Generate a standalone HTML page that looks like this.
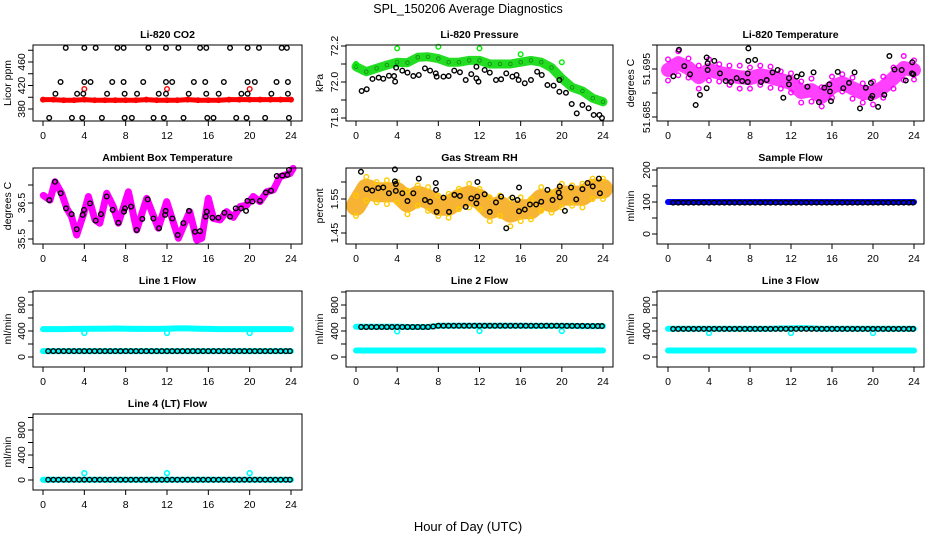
<!DOCTYPE html>
<html>
<head>
<meta charset="utf-8">
<style>
  html,body{margin:0;padding:0;background:#fff;}
  svg{display:block;font-family:"Liberation Sans",sans-serif;}
  .tk{font-size:10.5px;fill:#000;}
  .ttl{font-size:10.5px;font-weight:bold;fill:#000;}
</style>
</head>
<body>
<svg id="chart" width="936" height="540" viewBox="0 0 936 540" xmlns="http://www.w3.org/2000/svg">
  <rect x="0" y="0" width="936" height="540" fill="#fff"/>
  <text x="468" y="13" text-anchor="middle" font-size="12.5">SPL_150206  Average Diagnostics</text>
  <text x="468" y="531" text-anchor="middle" font-size="13">Hour of Day (UTC)</text>
</svg>
<script>
// ---------- data ----------
const HOURS = [0,1,2,3,4,5,6,7,8,9,10,11,12,13,14,15,16,17,18,19,20,21,22,23,24];
const HALF = [0.5,1,1.5,2,2.5,3,3.5,4,4.5,5,5.5,6,6.5,7,7.5,8,8.5,9,9.5,10,10.5,11,11.5,12,12.5,13,13.5,14,14.5,15,15.5,16,16.5,17,17.5,18,18.5,19,19.5,20,20.5,21,21.5,22,22.5,23,23.5,23.9];
const X_TICKS = [0,4,8,12,16,20,24];

// CO2
const co2Red = [396,396,395,395,396,395,395,395,395,395,396,395,395,395,396,395,395,395,396,396,396,396,396,396,396];
const co2RedOutHours = [4,12,20];
const co2RedOutVals = [414,414,414];
const co2BlackHours = [2.2,4.0,5.1,7.2,7.8,10.2,11.9,13.1,15.2,15.8,18.1,19.8,20.9,23.1,23.6,
  1.7,4.0,4.6,6.7,7.8,9.7,11.9,12.5,14.6,15.7,17.5,19.8,20.5,22.6,23.7,
  1.2,3.3,3.9,6.2,7.9,9.1,11.2,11.9,14.1,15.8,17.0,19.2,19.8,22.1,23.7,
  0.6,2.8,3.8,5.7,7.9,8.6,10.7,11.7,13.6,15.9,16.5,18.7,19.7,21.5,23.8];
const co2BlackVals = [484,484,484,484,484,484,484,484,484,484,484,484,484,484,484,
  426,426,426,426,426,426,426,426,426,426,426,426,426,426,426,
  406,406,406,406,406,406,406,406,406,406,406,406,406,406,406,
  365,365,365,365,365,365,365,365,365,365,365,365,365,365,365];

// Pressure
const presGreen = [72.085,72.057,72.076,72.094,72.11,72.107,72.137,72.14,72.13,72.11,72.11,72.12,72.12,72.1,72.1,72.1,72.11,72.12,72.11,72.08,72.02,71.97,71.95,71.91,71.89];
const presGreenOutHours = [0,4,8,12,16,20];
const presGreenOutVals = [72.1,72.187,72.196,72.187,72.154,72.11];
const presBlackHours = [0.55,1.04,1.6,2.2,2.65,3.2,3.7,3.8,3.9,4.5,5.0,5.57,6.1,6.7,7.2,7.75,7.84,8.5,9.0,9.55,10.1,10.66,11.2,11.7,11.7,11.9,12.5,13.0,13.6,14.1,14.6,15.2,15.6,15.8,16.4,17.0,17.6,18.05,18.6,19.2,19.76,19.76,20.4,20.96,21.45,22.0,22.6,23.1,23.65,23.9];
const presBlackVals = [71.95,71.96,72.017,72.024,72.018,72.035,72.033,72.002,72.08,72.063,72.052,72.033,72.039,72.076,72.063,72.048,72.03,72.03,72.033,72.063,72.054,72.011,72.044,72.02,72.085,72.002,72.067,72.052,72.011,72.015,72.048,72.03,72.039,72.011,71.993,72.011,72.057,72.039,71.983,71.98,71.946,72.011,71.94,71.878,71.826,71.872,71.854,71.817,71.817,71.8];

// Li-820 temperature
const tempMag = [51.6948,51.6962,51.6952,51.6933,51.6948,51.6942,51.6937,51.6933,51.6931,51.6937,51.6933,51.6927,51.6921,51.6902,51.6906,51.6892,51.6912,51.6921,51.691,51.69,51.69,51.6912,51.6931,51.6952,51.6948];
const tempSpread = [0.0022,0.0025,0.002,0.0024,0.0022,0.0018,0.002,0.0024,0.0022,0.002,0.0022,0.0018,0.002,0.0022,0.0024,0.002,0.0022,0.0018,0.0022,0.002,0.0024,0.0022,0.0022,0.0025,0.002];
const tempBlackHours = [0.52,1.07,1.59,2.15,2.7,3.12,3.77,3.77,3.87,3.87,4.52,5.07,5.63,6.15,6.7,7.24,7.78,7.78,7.84,7.84,8.5,9.07,9.63,10.2,10.7,11.25,11.8,11.8,12.56,13.05,13.6,14.2,14.73,15.25,15.74,15.8,15.9,16.56,17.1,17.66,18.2,18.73,19.3,19.8,19.8,19.93,20.5,21.1,21.6,22.1,22.8,23.2,23.8,23.83,23.93];
const tempBlackVals = [51.6935,51.699,51.6956,51.6939,51.6875,51.6896,51.691,51.6974,51.6962,51.6948,51.6967,51.6941,51.6925,51.6923,51.6931,51.6925,51.6923,51.6941,51.6967,51.6993,51.6969,51.6923,51.6927,51.6943,51.6948,51.689,51.6931,51.6918,51.6934,51.6939,51.6913,51.6943,51.6881,51.6911,51.6918,51.6903,51.6883,51.6944,51.691,51.6921,51.6943,51.6868,51.6911,51.6921,51.6889,51.6894,51.6871,51.6896,51.6977,51.6949,51.6948,51.6926,51.6941,51.6964,51.6939];

// Ambient box temperature
const ambHours = [0.03,0.68,1.16,1.8,2.3,2.77,3.26,3.9,4.39,5.03,5.5,6.16,6.8,7.3,8.26,9.07,10.04,11.16,11.97,13.1,14.2,14.88,15.36,16.0,16.5,17.13,17.78,18.42,19.07,19.7,20.35,21.0,21.66,22.3,22.94,23.9,24.2];
const ambMag = [36.71,36.58,37.09,36.77,36.35,36.12,35.61,36.17,36.68,36.03,35.94,36.77,36.4,35.94,36.81,35.75,36.63,35.8,36.54,35.52,36.26,35.47,35.52,36.63,36.07,36.03,36.26,36.1,36.4,36.44,36.68,36.54,36.81,36.86,37.23,37.32,37.46];
const ambBlackHours = [0.61,1.16,1.71,2.23,2.77,3.26,3.84,3.97,4.55,5.1,5.61,6.16,6.74,7.3,7.84,7.94,8.52,9.07,9.61,10.13,10.68,11.23,11.81,11.87,12.52,13.04,13.58,14.13,14.71,15.2,15.75,15.85,16.39,16.97,17.55,18.1,18.65,19.17,19.65,19.78,20.26,21.0,21.56,22.07,22.62,23.17,23.65,23.81];
const ambBlackVals = [36.58,37.09,36.77,36.35,36.19,35.77,36.17,36.31,36.49,36.01,36.19,36.68,36.31,35.95,36.26,36.35,36.4,35.75,36.06,36.6,36.07,35.8,36.17,36.28,36.07,35.61,35.94,36.28,35.7,35.72,36.12,36.26,36.09,36.09,36.23,36.12,36.35,36.35,36.28,36.56,36.54,36.56,36.79,36.84,37.25,37.26,37.28,37.42];

// Gas stream RH
const rhBand = [1.53,1.58,1.57,1.57,1.57,1.54,1.56,1.55,1.53,1.53,1.55,1.56,1.55,1.52,1.53,1.51,1.52,1.52,1.55,1.54,1.56,1.56,1.56,1.58,1.58];
const rhSpread = [0.03,0.035,0.03,0.035,0.03,0.035,0.03,0.035,0.03,0.035,0.03,0.035,0.03,0.035,0.03,0.04,0.035,0.03,0.035,0.03,0.035,0.03,0.035,0.03,0.03];
const rhBlackHours = [0.48,1.03,1.58,2.16,2.65,3.2,3.78,3.78,3.87,3.87,4.5,5.0,5.57,6.1,6.7,7.2,7.75,7.78,7.84,8.5,9.04,9.56,10.1,10.66,11.2,11.7,11.78,11.8,12.5,13.0,13.6,14.1,14.6,15.2,15.7,15.84,15.84,16.4,16.9,17.5,18.0,18.6,19.1,19.7,19.8,19.8,20.3,20.9,21.4,22.0,22.5,23.0,23.6,23.7];
const rhBlackVals = [1.63,1.579,1.575,1.582,1.584,1.567,1.637,1.602,1.574,1.594,1.567,1.544,1.567,1.61,1.547,1.542,1.597,1.577,1.512,1.554,1.512,1.562,1.559,1.527,1.552,1.537,1.557,1.6,1.564,1.512,1.54,1.557,1.464,1.554,1.547,1.584,1.514,1.519,1.534,1.534,1.542,1.577,1.547,1.569,1.587,1.555,1.515,1.584,1.549,1.579,1.597,1.587,1.61,1.567];

// Sample flow
const sampleBlue = [100,100,100,100,100,100,100,100,100,100,100,100,100,100,100,100,100,100,100,100,100,100,100,100,100];
const sampleBlack = [98,98,98,98,98,98,98,98,98,98,98,98,98,98,98,98,98,98,98,98,98,98,98,98,98,98,98,98,98,98,98,98,98,98,98,98,98,98,98,98,98,98,98,98,98,98,98,98];

// Line flows
const DIP_HOURS = [4,12,20];
const line1CyanHi = [430,430,430,432,432,435,435,438,435,432,432,432,435,440,440,435,432,430,430,430,430,430,430,430,430];
const line1CyanLo = [90,90,90,90,90,90,90,90,90,90,90,90,90,90,90,90,90,90,90,90,90,90,90,90,90];
const line1Dips = [370,370,370];
const line1Black = [90,90,90,90,90,90,90,90,90,90,90,90,90,90,90,90,90,90,90,90,90,90,90,90,90,90,90,90,90,90,90,90,90,90,90,90,90,90,90,90,90,90,90,90,90,90,90,90];
const line2CyanHi = [465,465,465,465,465,462,462,462,480,480,480,480,480,480,480,480,480,478,478,478,478,478,476,476,476];
const line2CyanLo = [100,100,100,100,100,100,100,100,100,100,100,100,100,100,100,100,100,100,100,100,100,100,100,100,100];
const line2Dips = [395,400,400];
const line2Black = [462,462,462,462,462,462,462,462,462,462,462,462,462,462,470,480,480,480,480,480,480,480,480,480,480,480,480,480,480,480,480,480,480,480,480,480,480,480,480,480,478,478,478,478,476,476,476,476];
const line3CyanHi = [435,435,435,435,435,435,435,435,435,435,435,440,440,445,440,435,435,435,435,435,435,435,435,435,435];
const line3CyanLo = [100,100,100,100,100,100,100,100,100,100,100,100,100,100,100,100,100,100,100,100,100,100,100,100,100];
const line3Dips = [370,370,370];
const line3Black = [432,432,432,432,432,432,432,432,432,432,432,432,432,432,432,432,432,432,432,432,432,432,432,432,432,432,432,432,432,432,432,432,432,432,432,432,432,432,432,432,432,432,432,432,432,432,432,432];
const line4CyanLo = [5,5,5,5,5,5,5,5,5,5,5,5,5,5,5,5,5,5,5,5,5,5,5,5,5];
const line4Dips = [110,110,110];
const line4Black = [5,5,5,5,5,5,5,5,5,5,5,5,5,5,5,5,5,5,5,5,5,5,5,5,5,5,5,5,5,5,5,5,5,5,5,5,5,5,5,5,5,5,5,5,5,5,5,5];

// ---------- layout ----------
const NS = "http://www.w3.org/2000/svg";
const svg = document.getElementById('chart');
const COLS = [{x0:43,x24:291,bl:33,br:302,tl:25,yl:11},{x0:356,x24:603,bl:346,br:613,tl:338,yl:323},{x0:668,x24:914,bl:657,br:924,tl:650,yl:634}];
const ROWTOP = [45,168,291,414];
const BOXH = 76;
const R = 2.3, SW = 1.4;

function mk(tag, attrs, parent){
  const e = document.createElementNS(NS, tag);
  for (const k in attrs) e.setAttribute(k, attrs[k]);
  parent.appendChild(e);
  return e;
}

function makePanel(p){
  const c = COLS[p.col], top = ROWTOP[p.row], bot = top + BOXH;
  const xs = h => c.x0 + (c.x24 - c.x0) * h / 24;
  const ys = v => p.yRef[1] + (v - p.yRef[0]) * (p.yRef[3] - p.yRef[1]) / (p.yRef[2] - p.yRef[0]);
  const g = mk('g', {}, svg);
  
  
  const marks = mk('g', {}, g);
  
  
  const box = mk('rect', {x:c.bl, y:top, width:c.br-c.bl, height:BOXH, fill:'none', stroke:'#000', 'stroke-width':1}, g);
  
  
  const xa = mk('g', {}, g);
  
  
  mk('line', {x1:xs(0), x2:xs(24), y1:bot, y2:bot, stroke:'#000'}, xa);
  X_TICKS.forEach(h => {
    mk('line', {x1:xs(h), x2:xs(h), y1:bot, y2:bot+5, stroke:'#000'}, xa);
    const t = mk('text', {x:xs(h), y:bot+18, 'text-anchor':'middle', class:'tk'}, xa);
    t.textContent = h;
    
    
  });
  const ya = mk('g', {}, g);
  
  
  mk('line', {x1:c.bl, x2:c.bl, y1:ys(p.ticks[0]), y2:ys(p.ticks[p.ticks.length-1]), stroke:'#000'}, ya);
  p.ticks.forEach(v => {
    mk('line', {x1:c.bl-5, x2:c.bl, y1:ys(v), y2:ys(v), stroke:'#000'}, ya);
  });
  p.labels.forEach(v => {
    const y = ys(v);
    const t = mk('text', {x:c.tl, y:y, 'text-anchor':'middle', class:'tk', transform:'rotate(-90 '+c.tl+' '+y+')'}, ya);
    t.textContent = v;
    
    
  });
  const yl = top + BOXH/2;
  const yt = mk('text', {x:c.yl, y:yl, 'text-anchor':'middle', class:'tk', transform:'rotate(-90 '+c.yl+' '+yl+')'}, g);
  yt.textContent = p.ylab;
  
  
  const tt = mk('text', {x:(c.bl+c.br)/2, y:top-7, 'text-anchor':'middle', class:'ttl'}, g);
  tt.textContent = p.title;
  
  
  return {g:marks, xs, ys};
}

function dots(P, hours, vals, color, name, r, sw){
  const g = mk('g', {}, P.g);
  
  
  hours.forEach((h, i) => {
    const c = mk('circle', {cx:P.xs(h), cy:P.ys(vals[i]), r:r||R, fill:'none', stroke:color, 'stroke-width':sw||SW}, g);
    
    
  });
}
function band(P, hours, vals, color, width, name, op){
  const pts = hours.map((h, i) => P.xs(h).toFixed(1) + ',' + P.ys(vals[i]).toFixed(1)).join(' ');
  const l = mk('polyline', {points:pts, fill:'none', stroke:color, 'stroke-width':width, 'stroke-linejoin':'round', 'stroke-linecap':'round', opacity:op||1}, P.g);
  
  
}

// ---------- panels ----------
let P = makePanel({name:'co2', col:0, row:0, title:'Li-820 CO2', ylab:'Licor ppm', yRef:[380,109,460,62], ticks:[380,400,420,440,460,480], labels:[380,420,460]});
band(P, HOURS, co2Red, '#ff0000', 5, 'co2-red-band');
dots(P, HOURS, co2Red, '#ff0000', 'co2-red');
dots(P, co2RedOutHours, co2RedOutVals, '#ff0000', 'co2-red-outlier');
dots(P, co2BlackHours, co2BlackVals, '#000', 'co2-black');

P = makePanel({name:'pressure', col:1, row:0, title:'Li-820 Pressure', ylab:'kPa', yRef:[72.0,82,72.2,46], ticks:[71.8,71.9,72.0,72.1,72.2], labels:['71.8','72.0','72.2']});
band(P, HOURS, presGreen, '#22dd22', 9, 'pressure-green-band');
dots(P, HOURS, presGreen, '#118811', 'pressure-green', 1.8, 0.8);
dots(P, presGreenOutHours, presGreenOutVals, '#00ee00', 'pressure-green-outlier');
dots(P, presBlackHours, presBlackVals, '#000', 'pressure-black');

P = makePanel({name:'li820-temp', col:2, row:0, title:'Li-820 Temperature', ylab:'degrees C', yRef:[51.695,69,51.685,117], ticks:[51.685,51.69,51.695,51.7], labels:['51.685','51.695']});
band(P, HOURS, tempMag, '#ff00ff', 14, 'temp-magenta-band', 0.75);
dots(P, HOURS, tempMag.map((v,i)=>v+tempSpread[i]), '#ff00ff', 'temp-magenta-upper');
dots(P, HOURS, tempMag.map((v,i)=>v-tempSpread[i]), '#ff00ff', 'temp-magenta-lower');
dots(P, tempBlackHours, tempBlackVals, '#000', 'temp-black');

P = makePanel({name:'ambient-temp', col:0, row:1, title:'Ambient Box Temperature', ylab:'degrees C', yRef:[36.5,203,35.5,239], ticks:[35.5,36,36.5,37], labels:['35.5','36.5']});
band(P, ambHours, ambMag, '#ff00ff', 7, 'ambient-magenta-band');
dots(P, ambBlackHours, ambBlackVals, '#000', 'ambient-black');

P = makePanel({name:'rh', col:1, row:1, title:'Gas Stream RH', ylab:'percent', yRef:[1.55,199,1.45,233], ticks:[1.45,1.5,1.55,1.6], labels:['1.45','1.55']});
band(P, HOURS, rhBand, '#f5a000', 20, 'rh-orange-band', 0.8);
dots(P, HOURS, rhBand.map((v,i)=>v+rhSpread[i]), '#ffcc00', 'rh-yellow-upper');
dots(P, HOURS, rhBand.map((v,i)=>v-rhSpread[i]), '#ffcc00', 'rh-yellow-lower');
dots(P, rhBlackHours, rhBlackVals, '#000', 'rh-black');

P = makePanel({name:'sample-flow', col:2, row:1, title:'Sample Flow', ylab:'ml/min', yRef:[100,202,0,234], ticks:[0,50,100,150,200], labels:[0,100,200]});
band(P, HOURS, sampleBlue, '#0000ff', 6, 'sample-blue-band');
dots(P, HALF, sampleBlack, '#000', 'sample-black');

function flowPanel(name, col, row, title, yRef, hi, lo, dipVals, black){
  const Q = makePanel({name, col, row, title, ylab:'ml/min', yRef, ticks:[0,200,400,600,800,1000], labels:[0,400,800]});
  if (hi) band(Q, HOURS, hi, '#00ffff', 6, name + '-cyan-high');
  band(Q, HOURS, lo, '#00ffff', 6, name + '-cyan-low');
  dots(Q, DIP_HOURS, dipVals, '#00ffff', name + '-cyan-outlier', 2.4, 1.6);
  dots(Q, HALF, black, '#000', name + '-black');
}
flowPanel('line1-flow', 0, 2, 'Line 1 Flow', [0,357,400,331], line1CyanHi, line1CyanLo, line1Dips, line1Black);
flowPanel('line2-flow', 1, 2, 'Line 2 Flow', [0,357,400,331], line2CyanHi, line2CyanLo, line2Dips, line2Black);
flowPanel('line3-flow', 2, 2, 'Line 3 Flow', [0,357,400,331], line3CyanHi, line3CyanLo, line3Dips, line3Black);
flowPanel('line4-flow', 0, 3, 'Line 4 (LT) Flow', [0,480,400,455], null, line4CyanLo, line4Dips, line4Black);
</script>
</body>
</html>
